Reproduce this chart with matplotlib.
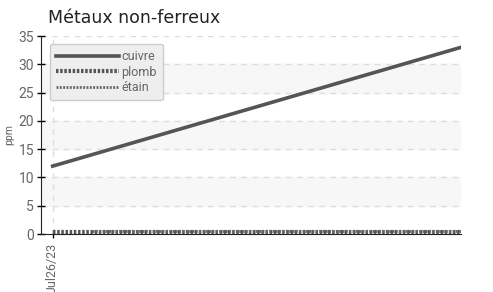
import matplotlib
matplotlib.use("Agg")
import matplotlib.pyplot as plt
from matplotlib import font_manager
import numpy as np

# données
jours = list(range(22))
labels_x = ["Jul26/23"]
cuivre = [12, 13, 14, 15, 16, 17, 18, 19, 20, 21, 22,
          23, 24, 25, 26, 27, 28, 29, 30, 31, 32, 33]
plomb = [0.4] * 22
etain = [np.nan, np.nan] + [0.6] * 20
y_ticks = [0, 5, 10, 15, 20, 25, 30, 35]

noms = {f.name for f in font_manager.fontManager.ttflist}
narrow = "Liberation Sans Narrow" if "Liberation Sans Narrow" in noms else "Roboto"
cond = [narrow, "DejaVu Sans"]

fig = plt.figure(figsize=(4.93, 2.92), dpi=100)
ax = fig.add_axes([41 / 493, 1 - 234 / 292, 420 / 493, 198 / 292])

# bandes alternées
for lo in (5, 15, 25):
    ax.axhspan(lo, lo + 5, color="#f7f7f7", zorder=0)

ax.plot(jours, cuivre, color="#555555", linewidth=2.6, label="cuivre", zorder=3)
ax.plot(jours, plomb, color="#555555", linewidth=3, linestyle=(0, (0.6, 0.4)),
        label="plomb", zorder=3)
ax.plot(jours, etain, color="#666666", linewidth=2, linestyle=(0, (0.7, 0.5)),
        label="étain", zorder=3)

ax.set_xlim(-0.6, 21)
ax.set_ylim(0, 35)
ax.set_yticks(y_ticks)
ax.set_xticks([0])
ax.set_xticklabels(labels_x, rotation=90, family=cond, fontsize=9, color="#666666")
for t in ax.get_yticklabels():
    t.set_family(cond)
ax.tick_params(axis="y", labelsize=10, labelcolor="#666666", direction="inout",
               length=6, width=1, pad=2)
ax.tick_params(axis="x", direction="inout", length=6, width=1)

ax.grid(True, color="#dddddd", linestyle=(0, (4, 4)), linewidth=1)
for s in ("top", "right"):
    ax.spines[s].set_visible(False)
ax.spines["left"].set_color("#222222")
ax.spines["bottom"].set_color("#222222")

ax.set_ylabel("ppm", fontsize=7.5, color="#666666", family=cond, labelpad=3)

leg = ax.legend(loc="upper left", bbox_to_anchor=(0.021, 0.96),
                borderaxespad=0, prop={"family": cond, "size": 9},
                handlelength=5, handletextpad=0.2, labelspacing=0.2,
                borderpad=0.5, frameon=True, fancybox=True, framealpha=1)
leg.get_frame().set_facecolor("#eeeeee")
leg.get_frame().set_edgecolor("#cccccc")
for t in leg.get_texts():
    t.set_color("#666666")

fig.text(48 / 493, 1 - 23 / 292, "Métaux non-ferreux", fontsize=12.5,
         color="#222222")

fig.savefig("out.png", dpi=100, facecolor="white")
